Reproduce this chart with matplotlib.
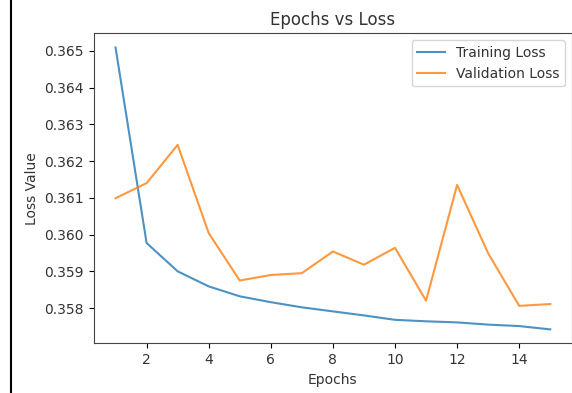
import numpy as np
import matplotlib.pyplot as plt
from matplotlib.lines import Line2D

# values
epochs = list(range(1, 16))
train_loss = [0.36509, 0.35977, 0.35900, 0.35859, 0.35832, 0.35816, 0.35802,
              0.35791, 0.35780, 0.35768, 0.35764, 0.35761, 0.35755, 0.35751,
              0.35742]
val_loss = [0.36099, 0.36140, 0.36244, 0.36004, 0.35875, 0.35890, 0.35895,
            0.35954, 0.35918, 0.35964, 0.35820, 0.36135, 0.35949, 0.35806,
            0.35811]

plt.rcParams["text.color"] = "#333333"
plt.rcParams["axes.labelcolor"] = "#333333"
plt.rcParams["xtick.labelcolor"] = "#333333"
plt.rcParams["ytick.labelcolor"] = "#333333"
plt.rcParams["axes.edgecolor"] = "#444444"

fig = plt.figure(figsize=(5.72, 3.93), dpi=100)
ax = fig.add_axes([0.164, 0.126, 0.836, 0.789])

ax.plot(epochs, train_loss, label="Training Loss", alpha=0.8)
ax.plot(epochs, val_loss, label="Validation Loss", alpha=0.8)

ax.set_title("Epochs vs Loss")
ax.set_xlabel("Epochs")
ax.set_ylabel("Loss Value")
ax.legend(loc="upper right")

# screenshot border on the left
fig.add_artist(Line2D([0.02, 0.02], [0, 1], color="black", linewidth=1.5,
                      transform=fig.transFigure))

fig.savefig("out.png", dpi=100)
